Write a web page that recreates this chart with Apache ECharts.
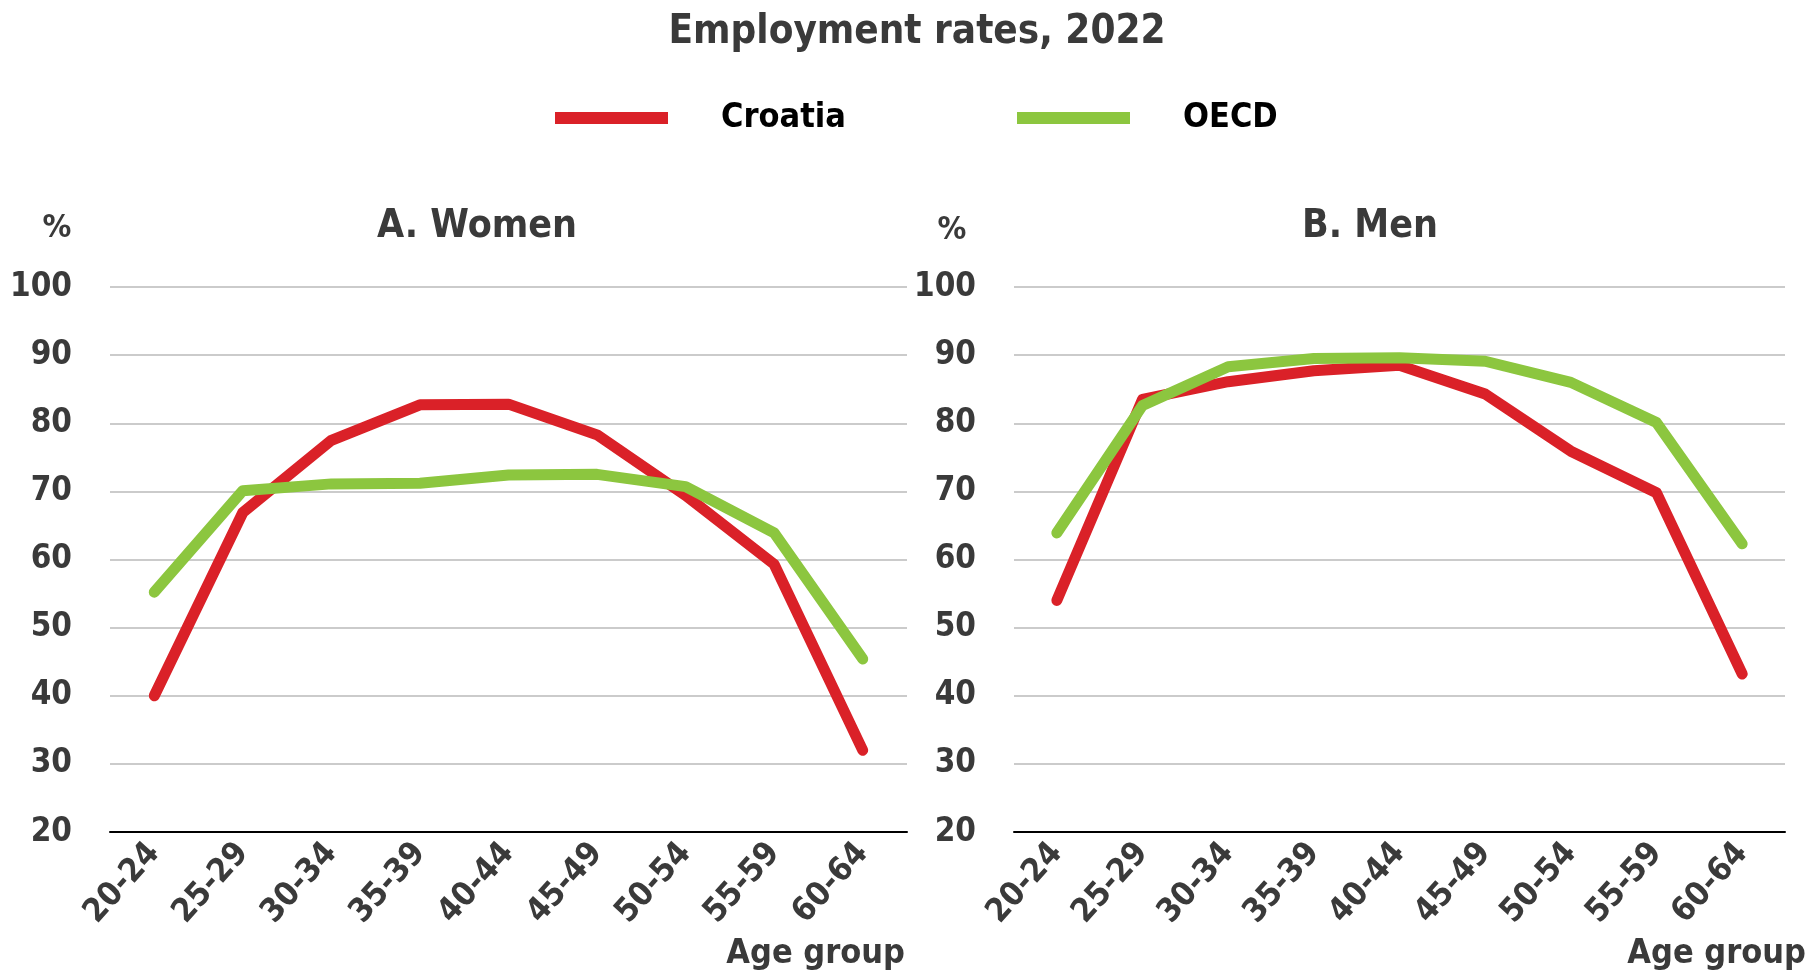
<!DOCTYPE html>
<html>
<head>
<meta charset="utf-8">
<script src="https://cdn.jsdelivr.net/npm/echarts@6/dist/echarts.min.js"></script>
<style>
  html, body { margin: 0; padding: 0; background: #fff; }
  #main { width: 1817px; height: 976px; }
</style>
</head>
<body>
<div id="main"></div>
<script>
// data
var ageGroups = ['20-24', '25-29', '30-34', '35-39', '40-44', '45-49', '50-54', '55-59', '60-64'];
var womenCroatia = [40.0, 66.9, 77.5, 82.7, 82.8, 78.3, 69.4, 59.3, 32.0];
var womenOecd = [55.2, 70.1, 71.1, 71.2, 72.4, 72.5, 70.7, 63.9, 45.4];
var menCroatia = [54.0, 83.5, 86.1, 87.7, 88.5, 84.3, 75.9, 69.8, 43.2];
var menOecd = [63.9, 82.6, 88.3, 89.5, 89.6, 89.1, 86.0, 80.1, 62.3];

var FONT = '"Liberation Sans Narrow", "Arial Narrow", "DejaVu Sans Condensed", sans-serif';
var RED = '#DA2128';
var GREEN = '#8CC63F';
var TXT = '#3a3a3a';

var chart = echarts.init(document.getElementById('main'));

function xAxis(idx) {
    return {
        type: 'category',
        gridIndex: idx,
        data: ageGroups,
        boundaryGap: true,
        axisLine: { lineStyle: { color: '#000', width: 2 } },
        axisTick: { inside: true, length: 16, lineStyle: { color: '#000', width: 1 } },
        axisLabel: { rotate: 48, margin: 16, color: TXT, fontFamily: FONT, fontWeight: 'bold', fontSize: 33, interval: 0 }
    };
}
function yAxis(idx) {
    return {
        type: 'value',
        gridIndex: idx,
        min: 20, max: 100, interval: 10,
        axisLine: { show: false },
        axisTick: { show: false },
        axisLabel: { margin: 38, color: TXT, fontFamily: FONT, fontWeight: 'bold', fontSize: 33 },
        splitLine: { lineStyle: { color: '#cbcbcb', width: 2 } }
    };
}
function line(name, data, color, idx) {
    return {
        name: name, type: 'line', data: data,
        xAxisIndex: idx, yAxisIndex: idx,
        symbol: 'none', z: name === 'Croatia' ? 3 : 4,
        lineStyle: { color: color, width: 11, cap: 'round', join: 'round' },
        itemStyle: { color: color }
    };
}
function legend(name, left) {
    return {
        left: left, top: 96,
        data: [name],
        icon: 'rect',
        itemWidth: 113, itemHeight: 12,
        textStyle: { fontFamily: FONT, fontWeight: 'bold', fontSize: 34, color: '#000', padding: [0, 0, 0, 48] }
    };
}

chart.setOption({
    animation: false,
    title: [
        { text: 'Employment rates, 2022', left: 912, top: 8, textAlign: 'center',
          textStyle: { fontFamily: FONT, fontWeight: 'bold', fontSize: 40, color: TXT } },
        { text: 'A. Women', left: 472, top: 202, textAlign: 'center',
          textStyle: { fontFamily: FONT, fontWeight: 'bold', fontSize: 39, color: TXT } },
        { text: 'B. Men', left: 1365, top: 202, textAlign: 'center',
          textStyle: { fontFamily: FONT, fontWeight: 'bold', fontSize: 39, color: TXT } },
        { text: '%', left: 52, top: 208, textAlign: 'center',
          textStyle: { fontFamily: FONT, fontWeight: 'bold', fontSize: 32, color: TXT } },
        { text: '%', left: 947, top: 210, textAlign: 'center',
          textStyle: { fontFamily: FONT, fontWeight: 'bold', fontSize: 32, color: TXT } },
        { text: 'Age group', left: 900, top: 932, textAlign: 'right',
          textStyle: { fontFamily: FONT, fontWeight: 'bold', fontSize: 34, color: TXT } },
        { text: 'Age group', left: 1801, top: 932, textAlign: 'right',
          textStyle: { fontFamily: FONT, fontWeight: 'bold', fontSize: 34, color: TXT } }
    ],
    legend: [legend('Croatia', 550), legend('OECD', 1012)],
    grid: [
        { left: 110, width: 797, top: 287, height: 545 },
        { left: 1014, width: 771, top: 287, height: 545 }
    ],
    xAxis: [xAxis(0), xAxis(1)],
    yAxis: [yAxis(0), yAxis(1)],
    series: [
        line('Croatia', womenCroatia, RED, 0),
        line('OECD', womenOecd, GREEN, 0),
        line('Croatia', menCroatia, RED, 1),
        line('OECD', menOecd, GREEN, 1)
    ]
});
window.onresize = function () { chart.resize(); };
</script>
</body>
</html>
